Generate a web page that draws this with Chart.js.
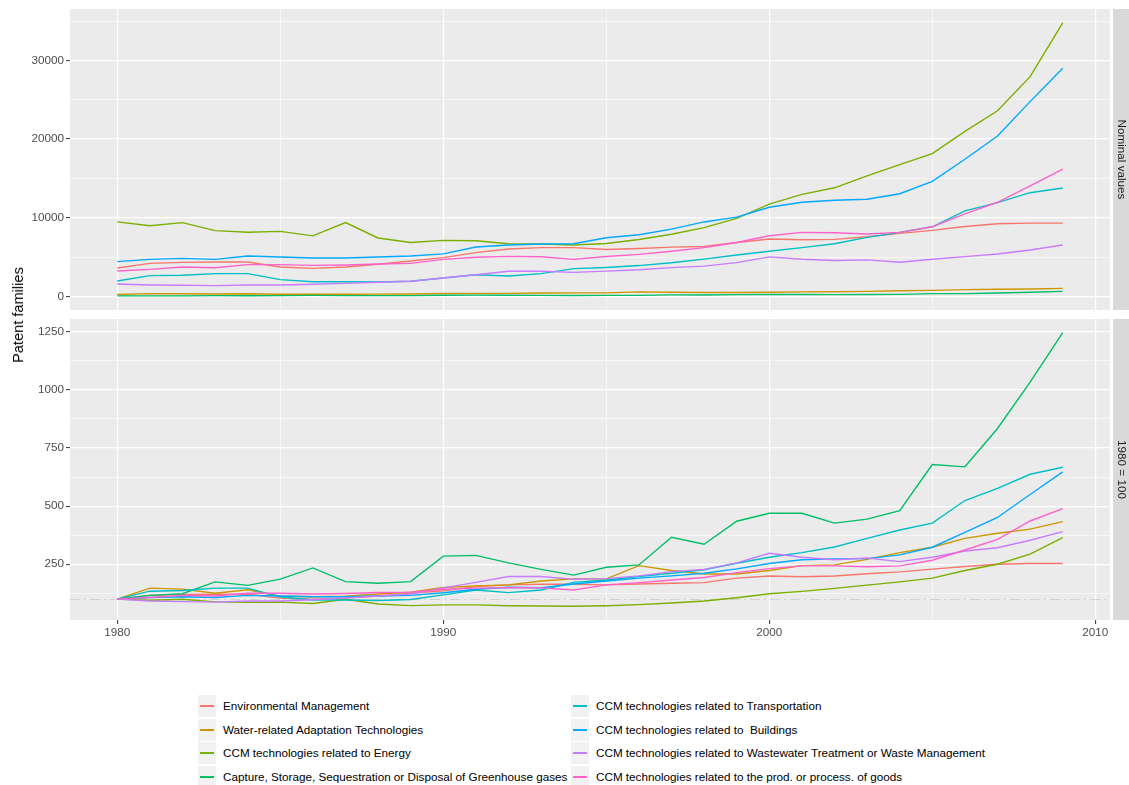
<!DOCTYPE html>
<html>
<head>
<meta charset="utf-8">
<script src="https://cdn.jsdelivr.net/npm/chart.js@4.4.1/dist/chart.umd.min.js"></script>
<style>
  html, body { margin: 0; padding: 0; background: #ffffff; }
  #wrap { position: relative; width: 1129px; height: 785px; overflow: hidden;
          font-family: "Liberation Sans", Arial, Helvetica, sans-serif; }
  #wrap canvas { position: absolute; left: 0; }
  #ytitle { position: absolute; left: 18px; top: 315px; font-size: 14.6px; color: #000;
            white-space: nowrap; transform: translate(-50%, -50%) rotate(-90deg); }
  .lg-item { position: absolute; height: 22px; }
  .lg-key { position: absolute; left: 0; top: 0; width: 18px; height: 22px; background: #F2F2F2; }
  .lg-line { position: absolute; left: 2px; width: 14px; top: 10px; height: 1.5px; }
  .lg-text { position: absolute; left: 25px; top: 0; line-height: 22px; font-size: 11.7px;
             color: #000; white-space: pre; }
</style>
</head>
<body>
<div id="wrap">
  <canvas id="panelTop" width="1129" height="312" style="top:0px"></canvas>
  <canvas id="panelBottom" width="1129" height="338" style="top:312px"></canvas>
  <div id="ytitle">Patent families</div>
  <div id="legend"></div>
</div>
<script>
// Priority years
const years = [1980, 1981, 1982, 1983, 1984, 1985, 1986, 1987, 1988, 1989,
               1990, 1991, 1992, 1993, 1994, 1995, 1996, 1997, 1998, 1999,
               2000, 2001, 2002, 2003, 2004, 2005, 2006, 2007, 2008, 2009];

const categories = [
  "Environmental Management",
  "Water-related Adaptation Technologies",
  "CCM technologies related to Energy",
  "Capture, Storage, Sequestration or Disposal of Greenhouse gases",
  "CCM technologies related to Transportation",
  "CCM technologies related to  Buildings",
  "CCM technologies related to Wastewater Treatment or Waste Management",
  "CCM technologies related to the prod. or process. of goods"
];

const colors = ["#F8766D", "#CD9600", "#7CAE00", "#00BE67", "#00BFC4", "#00A9FF", "#C77CFF", "#FF61CC"];

// Nominal patent family counts
const nomEnvironment = [3600, 4190, 4320, 4360, 4360, 3730, 3560, 3730, 4070, 4490, 4920, 5550, 6020, 6190, 6190, 5950, 6080, 6250, 6340, 6840, 7280, 7200, 7240, 7580, 8000, 8380, 8880, 9220, 9310, 9310];
const nomWater       = [234, 344, 335, 293, 328, 262, 257, 262, 285, 304, 351, 367, 377, 417, 438, 438, 571, 522, 487, 494, 522, 571, 578, 634, 702, 756, 845, 896, 938, 1013];
const nomEnergy      = [9470, 8980, 9370, 8350, 8140, 8260, 7690, 9380, 7420, 6840, 7120, 7070, 6690, 6650, 6530, 6720, 7220, 7890, 8740, 9920, 11730, 12960, 13800, 15320, 16750, 18140, 20970, 23600, 27940, 34780];
const nomCapture     = [51, 59, 62, 88, 80, 94, 118, 89, 85, 89, 144, 146, 130, 115, 103, 120, 125, 185, 170, 220, 237, 237, 216, 225, 243, 344, 339, 422, 523, 630];
const nomTransport   = [1950, 2630, 2670, 2880, 2880, 2120, 1860, 1860, 1820, 1910, 2330, 2750, 2580, 2880, 3520, 3670, 3910, 4270, 4730, 5260, 5730, 6190, 6690, 7490, 8130, 8840, 10860, 11920, 13180, 13770];
const nomBuildings   = [4410, 4700, 4830, 4700, 5130, 5000, 4870, 4870, 5000, 5130, 5400, 6270, 6530, 6650, 6690, 7450, 7830, 8550, 9460, 10070, 11330, 11960, 12210, 12340, 13050, 14610, 17430, 20380, 24760, 29010];
const nomWaste       = [1570, 1440, 1400, 1360, 1440, 1440, 1530, 1650, 1780, 1910, 2330, 2750, 3180, 3180, 3050, 3210, 3380, 3650, 3840, 4280, 5010, 4720, 4550, 4630, 4340, 4720, 5050, 5390, 5890, 6530];
const nomGoods       = [3220, 3430, 3730, 3640, 4030, 4030, 3940, 3980, 4110, 4190, 4700, 4960, 5080, 5040, 4700, 5060, 5340, 5740, 6190, 6840, 7710, 8130, 8080, 7920, 8130, 8840, 10480, 11960, 14060, 16170];

// Index values, 1980 = 100
const idxEnvironment = [100, 116, 120, 121, 121, 104, 99, 104, 113, 125, 136, 154, 161, 164, 164, 161, 165, 168, 171, 190, 199, 196, 199, 209, 217, 229, 240, 250, 253, 253];
const idxWater       = [100, 147, 143, 125, 140, 112, 110, 112, 122, 130, 150, 157, 161, 178, 187, 187, 244, 223, 208, 208, 223, 244, 247, 271, 300, 323, 361, 383, 401, 433];
const idxEnergy      = [100, 95, 99, 88, 86, 87, 81, 99, 79, 72, 75, 75, 71, 70, 69, 71, 76, 83, 92, 106, 123, 133, 146, 160, 174, 190, 223, 250, 293, 364];
const idxCapture     = [100, 116, 123, 174, 159, 186, 234, 175, 168, 175, 285, 288, 256, 228, 203, 237, 247, 366, 336, 435, 469, 469, 427, 444, 480, 679, 669, 834, 1033, 1246];
const idxTransport   = [100, 134, 137, 147, 147, 109, 96, 96, 94, 98, 118, 139, 128, 139, 172, 182, 197, 211, 226, 254, 280, 300, 324, 361, 397, 427, 524, 576, 637, 667];
const idxBuildings   = [100, 107, 110, 107, 116, 113, 110, 110, 113, 116, 127, 142, 151, 149, 165, 178, 190, 200, 211, 230, 253, 269, 273, 274, 290, 323, 387, 451, 550, 647];
const idxWaste       = [100, 92, 89, 87, 92, 92, 97, 105, 113, 122, 148, 172, 197, 197, 185, 188, 200, 218, 228, 256, 297, 280, 269, 277, 261, 280, 307, 321, 353, 390];
const idxGoods       = [100, 107, 116, 113, 125, 125, 122, 124, 128, 130, 142, 147, 149, 148, 139, 161, 171, 182, 193, 214, 231, 243, 243, 239, 243, 267, 311, 357, 436, 489];

const nominalSeries = [nomEnvironment, nomWater, nomEnergy, nomCapture, nomTransport, nomBuildings, nomWaste, nomGoods];
const indexSeries   = [idxEnvironment, idxWater, idxEnergy, idxCapture, idxTransport, idxBuildings, idxWaste, idxGoods];

// Axis breaks (major labelled, minor unlabelled)
const xMajor = [1980, 1990, 2000, 2010];
const xMinor = [1985, 1995, 2005];
const nomMajor = [0, 10000, 20000, 30000];
const nomMinor = [5000, 15000, 25000, 35000];
const idxMajor = [250, 500, 750, 1000, 1250];
const idxMinor = [125, 375, 625, 875, 1125];

const FONT = '"Liberation Sans", Arial, Helvetica, sans-serif';

// Grey panel background, facet strip on the right and optional reference line
const panelPlugin = {
  id: 'panel',
  beforeDraw(chart, args, o) {
    const { ctx, chartArea: a } = chart;
    ctx.save();
    ctx.fillStyle = '#EBEBEB';
    ctx.fillRect(a.left, a.top, a.right - a.left, a.bottom - a.top);
    const sx = a.right + 3;
    ctx.fillStyle = '#D9D9D9';
    ctx.fillRect(sx, a.top, chart.width - sx, a.bottom - a.top);
    ctx.translate(sx + 8.5, (a.top + a.bottom) / 2);
    ctx.rotate(Math.PI / 2);
    ctx.fillStyle = '#1A1A1A';
    ctx.font = '11.7px ' + FONT;
    ctx.textAlign = 'center';
    ctx.textBaseline = 'middle';
    ctx.fillText(o.strip, 0, 0);
    ctx.restore();
  },
  beforeDatasetsDraw(chart, args, o) {
    if (o.ref == null) return;
    const { ctx, chartArea: a } = chart;
    const y = Math.round(chart.scales.y.getPixelForValue(o.ref)) + 0.5;
    ctx.save();
    ctx.strokeStyle = '#D2D2D2';
    ctx.lineWidth = 1.1;
    ctx.setLineDash([10, 4, 2, 4]);
    ctx.beginPath();
    ctx.moveTo(a.left, y);
    ctx.lineTo(a.right, y);
    ctx.stroke();
    ctx.restore();
  }
};

// Axes should not push the panel inward for overhanging labels
function clearPadding(s) {
  s.paddingTop = 0;
  s.paddingBottom = 0;
  s.paddingLeft = 0;
  s.paddingRight = 0;
}

function makePanel(canvasId, series, yMin, yMax, yMajor, yMinor, stripText, refValue, showX, padTop) {
  const datasets = series.map((vals, i) => ({
    label: categories[i],
    data: years.map((yr, j) => ({ x: yr, y: vals[j] })),
    borderColor: colors[i],
    backgroundColor: colors[i],
    borderWidth: 1.4,
    pointRadius: 0,
    tension: 0,
    fill: false,
    order: categories.length - i
  }));

  const isMajor = (list) => (ctx) => list.includes(ctx.tick && ctx.tick.value);

  return new Chart(document.getElementById(canvasId), {
    type: 'line',
    data: { datasets },
    plugins: [panelPlugin],
    options: {
      responsive: false,
      animation: false,
      devicePixelRatio: 1,
      layout: { padding: { top: padTop, right: 19, left: 0, bottom: showX ? 0 : 2 } },
      plugins: {
        legend: { display: false },
        tooltip: { enabled: false },
        panel: { strip: stripText, ref: refValue }
      },
      scales: {
        x: {
          type: 'linear',
          min: 1978.55,
          max: 2010.45,
          afterBuildTicks: (s) => { s.ticks = xMajor.concat(xMinor).sort((a, b) => a - b).map(v => ({ value: v })); },
          afterFit: (s) => { s.height = showX ? 30 : 0; clearPadding(s); },
          border: { display: false },
          grid: {
            color: '#FFFFFF',
            lineWidth: (ctx) => isMajor(xMajor)(ctx) ? 1.2 : 0.6,
            drawTicks: showX,
            tickLength: 4,
            tickWidth: 1,
            tickColor: (ctx) => isMajor(xMajor)(ctx) ? '#333333' : 'rgba(0,0,0,0)'
          },
          ticks: {
            display: showX,
            autoSkip: false,
            maxRotation: 0,
            padding: 2,
            color: '#4D4D4D',
            font: { family: FONT, size: 11.7 },
            callback: (v) => xMajor.includes(v) ? String(v) : ''
          }
        },
        y: {
          type: 'linear',
          min: yMin,
          max: yMax,
          afterBuildTicks: (s) => { s.ticks = yMajor.concat(yMinor).sort((a, b) => a - b).map(v => ({ value: v })); },
          afterFit: (s) => { s.width = 70; clearPadding(s); },
          border: { display: false },
          grid: {
            color: '#FFFFFF',
            lineWidth: (ctx) => isMajor(yMajor)(ctx) ? 1.2 : 0.6,
            drawTicks: true,
            tickLength: 4,
            tickWidth: 1,
            tickColor: (ctx) => isMajor(yMajor)(ctx) ? '#333333' : 'rgba(0,0,0,0)'
          },
          ticks: {
            autoSkip: false,
            padding: 2,
            color: '#4D4D4D',
            font: { family: FONT, size: 11.7 },
            callback: (v) => yMajor.includes(v) ? String(v) : ''
          }
        }
      }
    }
  });
}

makePanel('panelTop', nominalSeries, -1740, 36540, nomMajor, nomMinor, 'Nominal values', null, false, 9);
makePanel('panelBottom', indexSeries, 10, 1305, idxMajor, idxMinor, '1980 = 100', 100, true, 7);

// Legend: two columns, four rows, filled column by column
const legend = document.getElementById('legend');
const colX = [198, 571];
const rowY = [695, 719, 742, 766];
categories.forEach((name, i) => {
  const col = Math.floor(i / 4), row = i % 4;
  const item = document.createElement('div');
  item.className = 'lg-item';
  item.style.left = colX[col] + 'px';
  item.style.top = rowY[row] + 'px';
  const key = document.createElement('div');
  key.className = 'lg-key';
  const line = document.createElement('div');
  line.className = 'lg-line';
  line.style.background = colors[i];
  key.appendChild(line);
  const text = document.createElement('div');
  text.className = 'lg-text';
  text.textContent = name;
  item.appendChild(key);
  item.appendChild(text);
  legend.appendChild(item);
});
</script>
</body>
</html>
